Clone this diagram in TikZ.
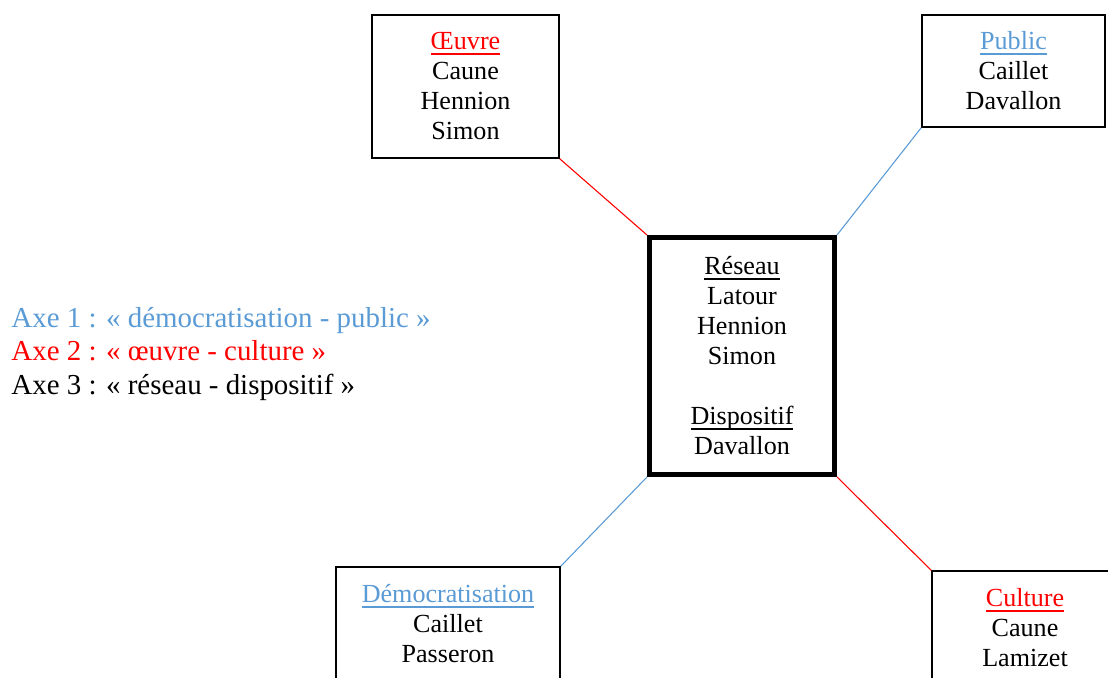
\documentclass[tikz,border=0pt]{standalone}
\usepackage{fontspec}
\setmainfont{Liberation Serif}
\usepackage{tikz}
\usetikzlibrary{positioning}
\definecolor{axeblue}{HTML}{5B9BD5}
\definecolor{axered}{HTML}{FF0000}
\newcommand{\hdline}[1]{\leavevmode\setbox0=\hbox{#1}\rlap{\rule[-2.2pt]{\wd0}{0.8pt}}\box0}
\tikzset{
  bx/.style={rectangle, draw=black, line width=0.7pt, align=center, inner sep=0pt, font=\fontsize{12}{13.8}\selectfont},
  bxc/.style={bx, line width=2.3pt},
  ln/.style={line width=0.5pt},
  lg/.style={align=left, anchor=west, inner sep=0pt, font=\fontsize{13.3}{15.2}\selectfont}
}
\begin{document}
\begin{tikzpicture}[x=0.46pt, y=-0.46pt]
	\clip (0,0) rectangle (1108,677);
	\node[bxc, minimum width=85.1pt, minimum height=109pt] (reseau) at (742,356)
	  {\hdline{Réseau}\\Latour\\Hennion\\Simon\\[13.8pt]\hdline{Dispositif}\\Davallon};
	\node[bx, minimum width=86pt, minimum height=65.8pt] (oeuvre) at (465.5,86.5)
	  {\textcolor{axered}{\hdline{Œuvre}}\\Caune\\Hennion\\Simon};
	\node[bx, minimum width=84.2pt, minimum height=51.5pt] (public) at (1013.5,71)
	  {\textcolor{axeblue}{\hdline{Public}}\\Caillet\\Davallon};
	\node[bx, minimum width=103pt, minimum height=52.4pt] (democ) at (448,624)
	  {\textcolor{axeblue}{\hdline{Démocratisation}}\\Caillet\\Passeron};
	\node[bx, minimum width=85.6pt, minimum height=52.4pt] (culture) at (1025,628)
	  {\textcolor{axered}{\hdline{Culture}}\\Caune\\Lamizet};
	%
	\draw[ln, axered] (oeuvre.south east) -- (reseau.north west);
	\draw[ln, axeblue] (public.south west) -- (reseau.north east);
	\draw[ln, axeblue] (reseau.south west) -- (democ.north east);
	\draw[ln, axered] (reseau.south east) -- (culture.north west);
	%
	\node[lg] (axes) at (11,354)
	  {\textcolor{axeblue}{Axe 1 : « démocratisation - public »}\\
	   \textcolor{axered}{Axe 2 : « œuvre - culture »}\\
	   Axe 3 : « réseau - dispositif »};
\end{tikzpicture}
\end{document}
